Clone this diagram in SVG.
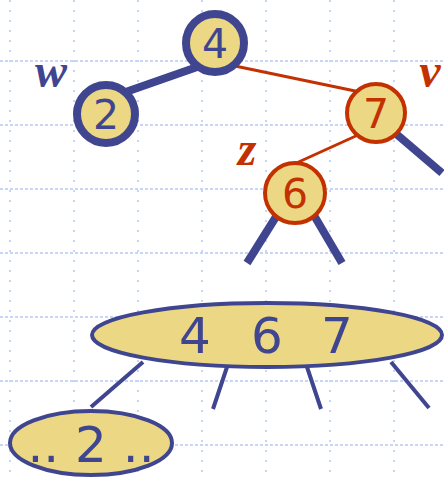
<svg xmlns="http://www.w3.org/2000/svg" width="444" height="477" viewBox="0 0 444 477">
<style>
.gh{stroke:#c6d6f6;stroke-width:2;stroke-dasharray:3 2;fill:none}
.gv{stroke:#c6d6f6;stroke-width:2;stroke-dasharray:2 8;fill:none}
.tb{stroke:#3f468f;stroke-width:8;stroke-linecap:butt;fill:none}
.mb{stroke:#3f468f;stroke-width:4;fill:none}
.re{stroke:#c33100;stroke-width:3;fill:none}
.nb{fill:#ebd784;stroke:#3f468f;stroke-width:8}
.nr{fill:#ebd784;stroke:#c33100;stroke-width:4}
.eb{fill:#ebd784;stroke:#3f468f;stroke-width:4}
.d{font-family:"DejaVu Sans","Open Sans",sans-serif;text-anchor:middle}
.l{font-family:"Liberation Serif","Times New Roman",serif;font-style:italic;font-weight:bold;text-anchor:middle;font-size:48px}
</style>
<rect width="444" height="477" fill="#fff"/>
<g id="grid">
<path class="gh" d="M0 61H444M0 125H444M0 189H444M0 253H444M0 317H444M0 381H444M0 445H444"/>
<path class="gv" d="M10 0V477M74 0V477M138 0V477M202 0V477M266 0V477M330 0V477M394 0V477"/>
</g>
<g id="connectors">
<line class="tb" x1="200" y1="66" x2="120" y2="94"/>
<line class="re" x1="235" y1="66" x2="360" y2="92"/>
<line class="re" x1="358" y1="135" x2="292" y2="165"/>
<line class="tb" x1="394" y1="132" x2="442" y2="173"/>
<line class="tb" x1="279" y1="212" x2="247" y2="263"/>
<line class="tb" x1="312" y1="212" x2="342" y2="263"/>
<line class="mb" x1="143" y1="362" x2="91" y2="407"/>
<line class="mb" x1="227" y1="367" x2="213" y2="409"/>
<line class="mb" x1="307" y1="367" x2="321" y2="409"/>
<line class="mb" x1="391" y1="362" x2="429" y2="408"/>
</g>
<g id="n4"><circle class="nb" cx="215" cy="43" r="29"/><text class="d" x="215" y="58" font-size="41" fill="#3f468f">4</text></g>
<g id="n2"><circle class="nb" cx="106" cy="114" r="29"/><text class="d" x="106" y="129" font-size="41" fill="#3f468f">2</text></g>
<g id="n7"><circle class="nr" cx="376" cy="113" r="29"/><text class="d" x="376" y="128" font-size="41" fill="#c33100">7</text></g>
<g id="n6"><circle class="nr" cx="295" cy="193" r="30"/><text class="d" x="295" y="208" font-size="41" fill="#c33100">6</text></g>
<g id="lw"><text class="l" x="51" y="87" fill="#3f468f">w</text></g>
<g id="lv"><text class="l" x="430" y="87" fill="#c33100">v</text></g>
<g id="lz"><text class="l" x="247" y="165" fill="#c33100">z</text></g>
<g id="n467"><ellipse class="eb" cx="267" cy="335" rx="175" ry="32"/><text class="d" y="353" font-size="50" fill="#3f468f"><tspan x="195">4</tspan><tspan x="267">6</tspan><tspan x="337">7</tspan></text></g>
<g id="n2b"><ellipse class="eb" cx="91" cy="443" rx="81" ry="32"/><text class="d" x="91" y="462" font-size="50" fill="#3f468f">.. 2 ..</text></g>
</svg>
